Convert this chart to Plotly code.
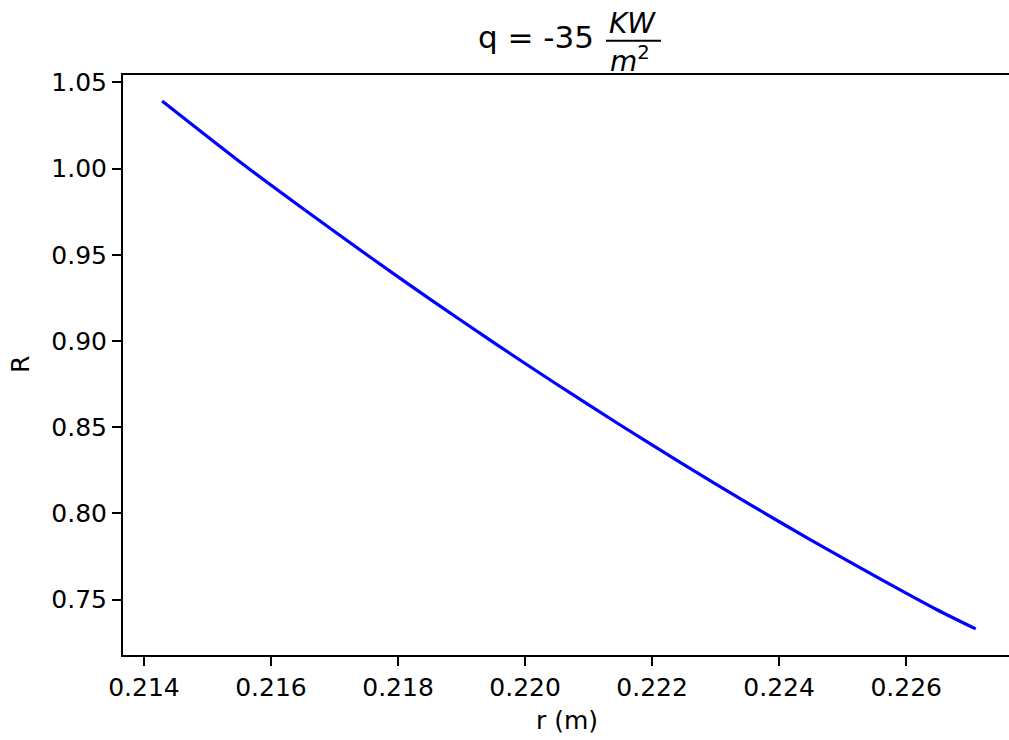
import plotly.graph_objects as go

# Radius (m) and the dimensionless ratio R along the wall
r_vals = [0.214286, 0.215518, 0.216463, 0.217564, 0.218508, 0.219531, 0.220475,
          0.221498, 0.222442, 0.223544, 0.224488, 0.225526, 0.226470, 0.227095]
R_vals = [1.0392, 1.0037, 0.9779, 0.9486, 0.9242, 0.8985, 0.8755,
          0.8513, 0.8296, 0.8051, 0.7848, 0.7633, 0.7444, 0.7330]

x_ticks = [0.214, 0.216, 0.218, 0.220, 0.222, 0.224, 0.226]
y_ticks = [0.75, 0.80, 0.85, 0.90, 0.95, 1.00, 1.05]

W, H = 1009, 740
ML, MR, MT, MB = 123, 0, 75, 85
FONT = "DejaVu Sans"


def px(x, y):
    """Pixel position -> paper coordinates."""
    pw = W - ML - MR
    ph = H - MT - MB
    return (x - ML) / pw, (H - MB - y) / ph


fig = go.Figure()
fig.add_trace(go.Scatter(
    x=r_vals, y=R_vals, mode="lines",
    line=dict(color="#0000ff", width=3.2, shape="spline", smoothing=0.8),
    hoverinfo="skip", showlegend=False,
))

axis_common = dict(
    showgrid=False, zeroline=False, showline=True, linecolor="black", linewidth=2,
    ticks="outside", ticklen=9, tickwidth=2, tickcolor="black",
    tickfont=dict(family=FONT, size=25, color="black"),
)
fig.update_xaxes(range=[0.21367, 0.227619], tickvals=x_ticks,
                 ticktext=[f"{v:.3f}" for v in x_ticks], mirror=True, **axis_common)
fig.update_yaxes(range=[0.71786, 1.05434], tickvals=y_ticks,
                 ticktext=[f"{v:.2f}" for v in y_ticks], mirror=False, **axis_common)

annotations = []
# title: q = -35 KW/m^2 written as a stacked fraction
x0, y0 = px(596, 37)
annotations.append(dict(text="q = -35", x=x0, y=y0, xanchor="right", yanchor="middle",
                        font=dict(family=FONT, size=31, color="black")))
x1, y1 = px(632, 24)
annotations.append(dict(text="<i>KW</i>", x=x1, y=y1, xanchor="center", yanchor="middle",
                        font=dict(family=FONT, size=28, color="black")))
x2, y2 = px(630, 60)
annotations.append(dict(text="<i>m</i><sup>2</sup>", x=x2, y=y2, xanchor="center",
                        yanchor="middle", font=dict(family=FONT, size=28, color="black")))
# axis titles
x3, y3 = px(567, 720)
annotations.append(dict(text="r (m)", x=x3, y=y3, xanchor="center", yanchor="middle",
                        font=dict(family=FONT, size=25, color="black")))
x4, y4 = px(20, 365)
annotations.append(dict(text="R", x=x4, y=y4, xanchor="center", yanchor="middle",
                        textangle=-90, font=dict(family=FONT, size=25, color="black")))
for a in annotations:
    a.update(xref="paper", yref="paper", showarrow=False)

bx0, by = px(606, 40.7)
bx1, _ = px(661, 40.7)

fig.update_layout(
    width=W, height=H,
    margin=dict(l=ML, r=MR, t=MT, b=MB),
    paper_bgcolor="white", plot_bgcolor="white",
    annotations=annotations,
    shapes=[dict(type="line", xref="paper", yref="paper", x0=bx0, x1=bx1, y0=by, y1=by,
                 line=dict(color="black", width=2))],
)

fig.write_html("out.html")
